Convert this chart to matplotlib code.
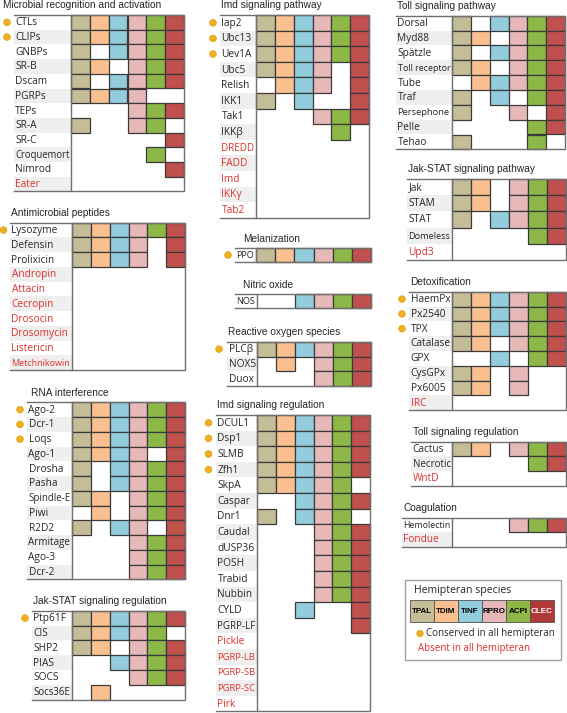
import numpy as np
import matplotlib.pyplot as plt
from matplotlib.patches import Rectangle, Circle

# Hemipteran species and their colours
species = ['TPAL', 'TDIM', 'TINF', 'RPRO', 'ACPI', 'CLEC']
species_colors = ['#C4BD97', '#FAC090', '#93CDDD', '#E6B9B8', '#8DB847', '#C0504D']

# presence (1) / absence (0) per species, in the order of `species`
microbial_genes = ['CTLs', 'CLIPs', 'GNBPs', 'SR-B', 'Dscam', 'PGRPs', 'TEPs', 'SR-A',
                   'SR-C', 'Croquemort', 'Nimrod', 'Eater']
microbial_presence = [[1, 1, 1, 1, 1, 1], [1, 1, 1, 1, 1, 1], [1, 0, 1, 1, 1, 1],
                      [1, 1, 0, 1, 1, 1], [1, 0, 1, 1, 1, 1], [1, 1, 1, 1, 0, 0],
                      [0, 0, 0, 1, 1, 1], [1, 0, 0, 1, 1, 0], [0, 0, 0, 0, 0, 1],
                      [0, 0, 0, 0, 1, 0], [0, 0, 0, 0, 0, 1], [0, 0, 0, 0, 0, 0]]

amp_genes = ['Lysozyme', 'Defensin', 'Prolixicin', 'Andropin', 'Attacin', 'Cecropin',
             'Drosocin', 'Drosomycin', 'Listericin', 'Metchnikowin']
amp_presence = [[1, 1, 1, 1, 1, 1], [1, 1, 1, 1, 0, 1], [1, 1, 1, 1, 0, 1],
                [0] * 6, [0] * 6, [0] * 6, [0] * 6, [0] * 6, [0] * 6, [0] * 6]

rnai_genes = ['Ago-2', 'Dcr-1', 'Loqs', 'Ago-1', 'Drosha', 'Pasha', 'Spindle-E', 'Piwi',
              'R2D2', 'Armitage', 'Ago-3', 'Dcr-2']
rnai_presence = [[1, 1, 1, 1, 1, 1], [1, 1, 1, 1, 1, 1], [1, 1, 1, 1, 1, 1],
                 [1, 1, 1, 1, 0, 1], [1, 0, 1, 1, 1, 1], [1, 0, 1, 1, 1, 1],
                 [1, 1, 0, 1, 1, 1], [0, 1, 0, 1, 1, 1], [1, 0, 1, 1, 0, 1],
                 [0, 0, 0, 1, 1, 1], [0, 0, 0, 1, 1, 1], [0, 0, 0, 1, 1, 1]]

jakreg_genes = ['Ptp61F', 'CIS', 'SHP2', 'PIAS', 'SOCS', 'Socs36E']
jakreg_presence = [[1, 1, 1, 1, 1, 1], [1, 1, 1, 1, 1, 0], [1, 1, 0, 1, 1, 1],
                   [0, 0, 1, 1, 1, 1], [0, 0, 0, 1, 1, 1], [0, 1, 0, 0, 0, 0]]

imd_genes = ['Iap2', 'Ubc13', 'Uev1A', 'Ubc5', 'Relish', 'IKK1', 'Tak1', 'IKKβ',
             'DREDD', 'FADD', 'Imd', 'IKKγ', 'Tab2']
imd_presence = [[1, 1, 1, 1, 1, 1], [1, 1, 1, 1, 1, 1], [1, 1, 1, 1, 1, 1],
                [1, 1, 1, 1, 0, 1], [0, 1, 1, 1, 0, 1], [1, 0, 1, 0, 0, 1],
                [0, 0, 0, 1, 1, 1], [0, 0, 0, 0, 1, 0],
                [0] * 6, [0] * 6, [0] * 6, [0] * 6, [0] * 6]

mel_genes = ['PPO']
mel_presence = [[1, 1, 1, 1, 1, 1]]

no_genes = ['NOS']
no_presence = [[0, 0, 1, 1, 1, 1]]

ros_genes = ['PLCβ', 'NOX5', 'Duox']
ros_presence = [[1, 1, 1, 1, 1, 1], [0, 1, 0, 1, 1, 1], [0, 0, 0, 1, 1, 1]]

imdreg_genes = ['DCUL1', 'Dsp1', 'SLMB', 'Zfh1', 'SkpA', 'Caspar', 'Dnr1', 'Caudal',
                'dUSP36', 'POSH', 'Trabid', 'Nubbin', 'CYLD', 'PGRP-LF', 'Pickle',
                'PGRP-LB', 'PGRP-SB', 'PGRP-SC', 'Pirk']
imdreg_presence = [[1, 1, 1, 1, 1, 1], [1, 1, 1, 1, 1, 1], [1, 1, 1, 1, 1, 1],
                   [1, 1, 1, 1, 1, 1], [1, 1, 1, 1, 1, 0], [0, 0, 1, 1, 1, 1],
                   [1, 0, 1, 1, 1, 0], [0, 0, 0, 1, 1, 1], [0, 0, 0, 1, 1, 1],
                   [0, 0, 0, 1, 1, 1], [0, 0, 0, 1, 1, 1], [0, 0, 0, 1, 1, 1],
                   [0, 0, 1, 0, 0, 1], [0, 0, 0, 0, 0, 1],
                   [0] * 6, [0] * 6, [0] * 6, [0] * 6, [0] * 6]

toll_genes = ['Dorsal', 'Myd88', 'Spätzle', 'Toll receptor', 'Tube', 'Traf',
              'Persephone', 'Pelle', 'Tehao']
toll_presence = [[1, 0, 1, 1, 1, 1], [1, 1, 0, 1, 1, 1], [1, 0, 1, 1, 1, 1],
                 [1, 1, 0, 1, 1, 1], [0, 1, 1, 1, 1, 1], [1, 0, 1, 0, 1, 1],
                 [1, 0, 0, 1, 0, 1], [0, 0, 0, 0, 1, 1], [1, 0, 0, 0, 1, 0]]

jak_genes = ['Jak', 'STAM', 'STAT', 'Domeless', 'Upd3']
jak_presence = [[1, 1, 0, 1, 1, 1], [1, 1, 0, 1, 1, 1], [1, 0, 1, 1, 1, 1],
                [0, 0, 0, 0, 1, 1], [0] * 6]

detox_genes = ['HaemPx', 'Px2540', 'TPX', 'Catalase', 'GPX', 'CysGPx', 'Px6005', 'IRC']
detox_presence = [[1, 1, 1, 1, 1, 1], [1, 1, 1, 1, 1, 1], [1, 1, 1, 1, 1, 1],
                  [1, 1, 0, 1, 1, 1], [0, 0, 1, 0, 1, 1], [1, 1, 0, 1, 0, 0],
                  [1, 1, 0, 1, 0, 0], [0] * 6]

tollreg_genes = ['Cactus', 'Necrotic', 'WntD']
tollreg_presence = [[1, 1, 0, 1, 1, 1], [0, 0, 0, 0, 1, 1], [0] * 6]

coag_genes = ['Hemolectin', 'Fondue']
coag_presence = [[0, 0, 0, 1, 1, 1], [0] * 6]

RED = '#E0302A'
DOT = '#F2B01E'
TITLE_FONT = 'Liberation Sans'
LABEL_FONT = 'Open Sans'

fig = plt.figure(figsize=(5.67, 7.13), dpi=100)
ax = fig.add_axes([0, 0, 1, 1])
ax.set_xlim(0, 567)
ax.set_ylim(713, 0)
ax.axis('off')
renderer = fig.canvas.get_renderer()


def draw_panel(title, genes, presence, x0, xg, x1, y0, rh, dot_x=None, title_x=None):
    n = len(genes)
    cw = (x1 - xg) / len(species)
    tx = x0 + 1 if title_x is None else title_x
    ax.text(tx, y0 - 9.5, title, fontsize=7.3, family=TITLE_FONT,
            color='#262626', va='center', ha='left')
    for i, g in enumerate(genes):
        y = y0 + i * rh
        if i % 2 == 1:
            ax.add_patch(Rectangle((x0, y), xg - x0, rh, fc='#EFEFEF', ec='none', zorder=1))
        row = presence[i]
        col = RED if sum(row) == 0 else '#262626'
        t = ax.text(x0 + 1.5, y + rh / 2 + 0.5, g, fontsize=7.3, family=LABEL_FONT,
                    color=col, va='center', ha='left', zorder=3)
        w = t.get_window_extent(renderer).width
        room = xg - x0 - 3
        if w > room:
            t.set_fontsize(7.3 * room / w)
        if sum(row) == len(species) and dot_x is not None:
            ax.add_patch(Circle((dot_x, y + rh / 2), 3.3, fc=DOT, ec='#D99A0A',
                                lw=0.5, zorder=3))
        for j, v in enumerate(row):
            if v:
                ax.add_patch(Rectangle((xg + j * cw, y), cw, rh, fc=species_colors[j],
                                       ec='#3A3A3A', lw=0.9, zorder=2))
    yb = y0 + n * rh
    ax.add_patch(Rectangle((xg, y0), x1 - xg, n * rh, fill=False, ec='#707070',
                           lw=1.0, zorder=4))
    ax.plot([x0, xg], [y0, y0], color='#707070', lw=1.0, zorder=4)
    ax.plot([x0, xg], [yb, yb], color='#707070', lw=1.0, zorder=4)


# left column
draw_panel('Microbial recognition and activation', microbial_genes, microbial_presence,
           13.5, 71, 184, 15, 14.7, dot_x=7, title_x=3)
draw_panel('Antimicrobial peptides', amp_genes, amp_presence,
           10, 72, 185, 222.7, 14.75, dot_x=3.5)
draw_panel('RNA interference', rnai_genes, rnai_presence,
           27, 72, 185, 402.3, 14.75, dot_x=20, title_x=31)
draw_panel('Jak-STAT signaling regulation', jakreg_genes, jakreg_presence,
           32, 72, 185, 610.7, 14.8, dot_x=25)

# middle column
draw_panel('Imd signaling pathway', imd_genes, imd_presence,
           220, 256, 369, 15, 15.6, dot_x=213)
draw_panel('Melanization', mel_genes, mel_presence,
           235, 256, 371, 248.3, 13.4, dot_x=228, title_x=243)
draw_panel('Nitric oxide', no_genes, no_presence,
           235, 257, 371, 294.3, 14.0, title_x=243)
draw_panel('Reactive oxygen species', ros_genes, ros_presence,
           227, 257, 371, 341.7, 14.8, dot_x=219)
draw_panel('Imd signaling regulation', imdreg_genes, imdreg_presence,
           216, 257, 370, 415, 15.6, dot_x=208.5)

# right column
draw_panel('Toll signaling pathway', toll_genes, toll_presence,
           396, 452, 565, 15.7, 14.85)
draw_panel('Jak-STAT signaling pathway', jak_genes, jak_presence,
           407, 452, 566, 179, 16.2)
draw_panel('Detoxification', detox_genes, detox_presence,
           409, 452, 566, 291.7, 14.8, dot_x=402)
draw_panel('Toll signaling regulation', tollreg_genes, tollreg_presence,
           411, 452, 566, 441.5, 14.7, title_x=413)
draw_panel('Coagulation', coag_genes, coag_presence,
           402, 452, 566, 517.7, 14.5, title_x=404)

# legend box
ax.add_patch(Rectangle((404.5, 580), 156.5, 79.5, fc='white', ec='#A0A0A0', lw=1.0))
ax.text(414, 590, 'Hemipteran species', fontsize=7.6, family=LABEL_FONT,
        color='#262626', va='center', ha='left')
for k, (sp, c) in enumerate(zip(species, species_colors)):
    fc = '#B03A38' if sp == 'CLEC' else c
    ax.add_patch(Rectangle((410 + k * 24, 600), 24, 22.3, fc=fc, ec='#505050', lw=0.6))
    ax.text(410 + k * 24 + 12, 611.5, sp, fontsize=5.8, family=TITLE_FONT,
            fontweight='bold', color='white' if sp == 'CLEC' else 'black',
            ha='center', va='center')
ax.add_patch(Circle((420, 633.5), 3.2, fc=DOT, ec='#D99A0A', lw=0.5))
ax.text(426.5, 633.5, 'Conserved in all hemipteran', fontsize=7.0, family=LABEL_FONT,
        color='#262626', va='center', ha='left')
ax.text(417.5, 649, 'Absent in all hemipteran', fontsize=7.0, family=LABEL_FONT,
        color=RED, va='center', ha='left')

fig.savefig('out.png', dpi=100)
